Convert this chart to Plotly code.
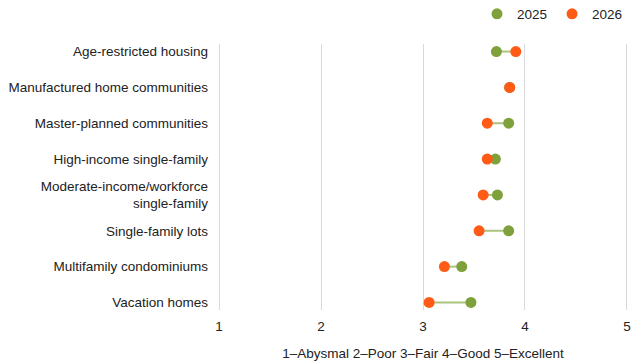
import plotly.graph_objects as go

categories = [
    "Age-restricted housing",
    "Manufactured home communities",
    "Master-planned communities",
    "High-income single-family",
    "Moderate-income/workforce<br>single-family",
    "Single-family lots",
    "Multifamily condominiums",
    "Vacation homes",
]
values_2025 = [3.72, 3.85, 3.84, 3.71, 3.73, 3.84, 3.38, 3.47]
values_2026 = [3.91, 3.85, 3.63, 3.63, 3.59, 3.55, 3.21, 3.06]
x_ticks = [1, 2, 3, 4, 5]
x_title = "1–Abysmal 2–Poor 3–Fair 4–Good 5–Excellent"

GREEN = "#7fa13b"
ORANGE = "#ff5b16"

lx, ly = [], []
for c, a, b in zip(categories, values_2025, values_2026):
    lx += [a, b, None]
    ly += [c, c, None]

fig = go.Figure()
fig.add_trace(go.Scatter(x=lx, y=ly, mode="lines",
                         line=dict(color="rgba(127,161,59,0.65)", width=2),
                         showlegend=False, hoverinfo="skip"))
fig.add_trace(go.Scatter(x=values_2025, y=categories, mode="markers", name="2025",
                         marker=dict(color=GREEN, size=11)))
fig.add_trace(go.Scatter(x=values_2026, y=categories, mode="markers", name="2026",
                         marker=dict(color=ORANGE, size=11)))

fig.update_layout(
    width=632, height=355,
    margin=dict(l=210, r=12, t=36, b=53),
    paper_bgcolor="white", plot_bgcolor="white",
    font=dict(family="Liberation Sans, Arial, sans-serif", size=13.5, color="#222"),
    showlegend=True,
    legend=dict(orientation="h", x=1.0, xanchor="right", y=0.983, yanchor="middle",
                yref="container", xref="paper", font=dict(size=13.5),
                itemwidth=30, tracegroupgap=0),
    xaxis=dict(range=[0.99, 5.01], tickvals=x_ticks, showgrid=True,
               gridcolor="#d9d9d9", gridwidth=1, zeroline=False, showline=False,
               ticks="", ticklabelstandoff=6, automargin=False,
               title=dict(text=x_title, standoff=16, font=dict(size=13.5))),
    yaxis=dict(categoryorder="array", categoryarray=categories,
               range=[7.21, -0.21], showgrid=False, zeroline=False,
               showline=False, ticks="", ticklabelstandoff=9, automargin=False),
)
fig.write_html("out.html")
